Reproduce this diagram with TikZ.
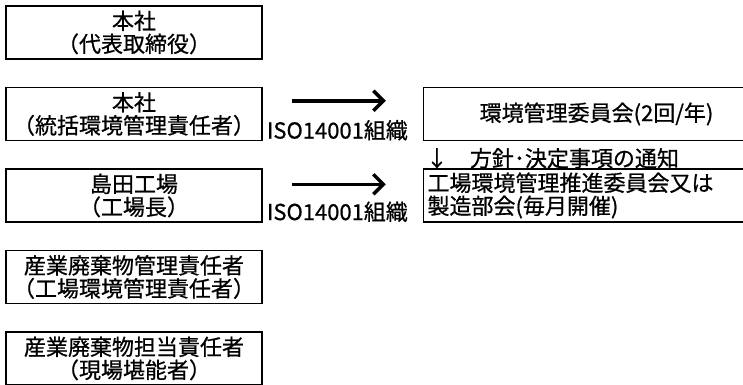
\documentclass[tikz,border=0pt]{standalone}
\usepackage{fontspec}
\newfontfamily\jpfont[FakeBold=0.7]{Noto Sans CJK JP}
\usetikzlibrary{
  arrows.meta, % for the Straight Barb arrow tip
  positioning, % for relative positioning of the boxes
}
\tikzset{
  post/.style={ % style for each post in the left column
    rectangle,draw,line width=1.5pt, % drawn as a thick rectangle
    inner sep=0pt, % no padding, the size is fixed below
    minimum width=256pt, % every post has the same width
    minimum height=53pt, % and the same height
    align=center, % two centred lines of text
    font=\jpfont\fontsize{22pt}{23pt}\selectfont,
  },
  board/.style={ % style for the committees on the right
    post, % inherit the post style
    minimum width=346pt, % runs off the right edge
  },
  label/.style={ % style for the loose texts
    inner sep=0pt,
    font=\jpfont\fontsize{22pt}{26pt}\selectfont,
  },
  conn/.style={ % style for the arrows
    -{Straight Barb[length=10pt,width=20pt]}, % open barbed arrow tip
    line width=3.5pt, % heavy stroke as in the scan
  },
}
\begin{document}
\begin{tikzpicture}[node distance=27pt and 160pt]
	\useasboundingbox (0,0) rectangle (743pt,-384pt);
	\clip (0,0) rectangle (743pt,-384pt);

	\node[post] (ceo) at (134pt,-32.5pt) {本社\\（代表取締役）};

	\node[post] (hq) [below=of ceo] {本社\\（統括環境管理責任者）};

	\node[post] (plant) [below=of hq] {島田工場\\（工場長）};

	\node[post] (waste) [below=of plant] {産業廃棄物管理責任者\\（工場環境管理責任者）};

	\node[post] (site) [below=of waste] {産業廃棄物担当責任者\\（現場堪能者）};

	% committees
	\node[board] (council) [right=of hq] {環境管理委員会(2回/年)};

	\node[board, align=left, text width=338pt] (promo) [right=of plant]
		{工場環境管理推進委員会又は\\製造部会(毎月開催)};

	\node[label, anchor=west] (notice) at ([xshift=3pt,yshift=-17pt]council.south west)
		{↓　方針･決定事項の通知};

	% ISO labels
	\node[label, anchor=west] (iso1) at ([xshift=4pt,yshift=11pt]hq.south east) {ISO14001組織};
	\node[label, anchor=west] (iso2) at ([xshift=4pt,yshift=11pt]plant.south east) {ISO14001組織};

	% arrows
	\coordinate (a1s) at ([xshift=29pt,yshift=-14pt]hq.north east);
	\coordinate (a1e) at ([xshift=123pt,yshift=-14pt]hq.north east);
	\coordinate (a2s) at ([xshift=29pt,yshift=-16pt]plant.north east);
	\coordinate (a2e) at ([xshift=123pt,yshift=-16pt]plant.north east);

	\draw[conn] (a1s) -- (a1e);
	\draw[conn] (a2s) -- (a2e);
\end{tikzpicture}
\end{document}
